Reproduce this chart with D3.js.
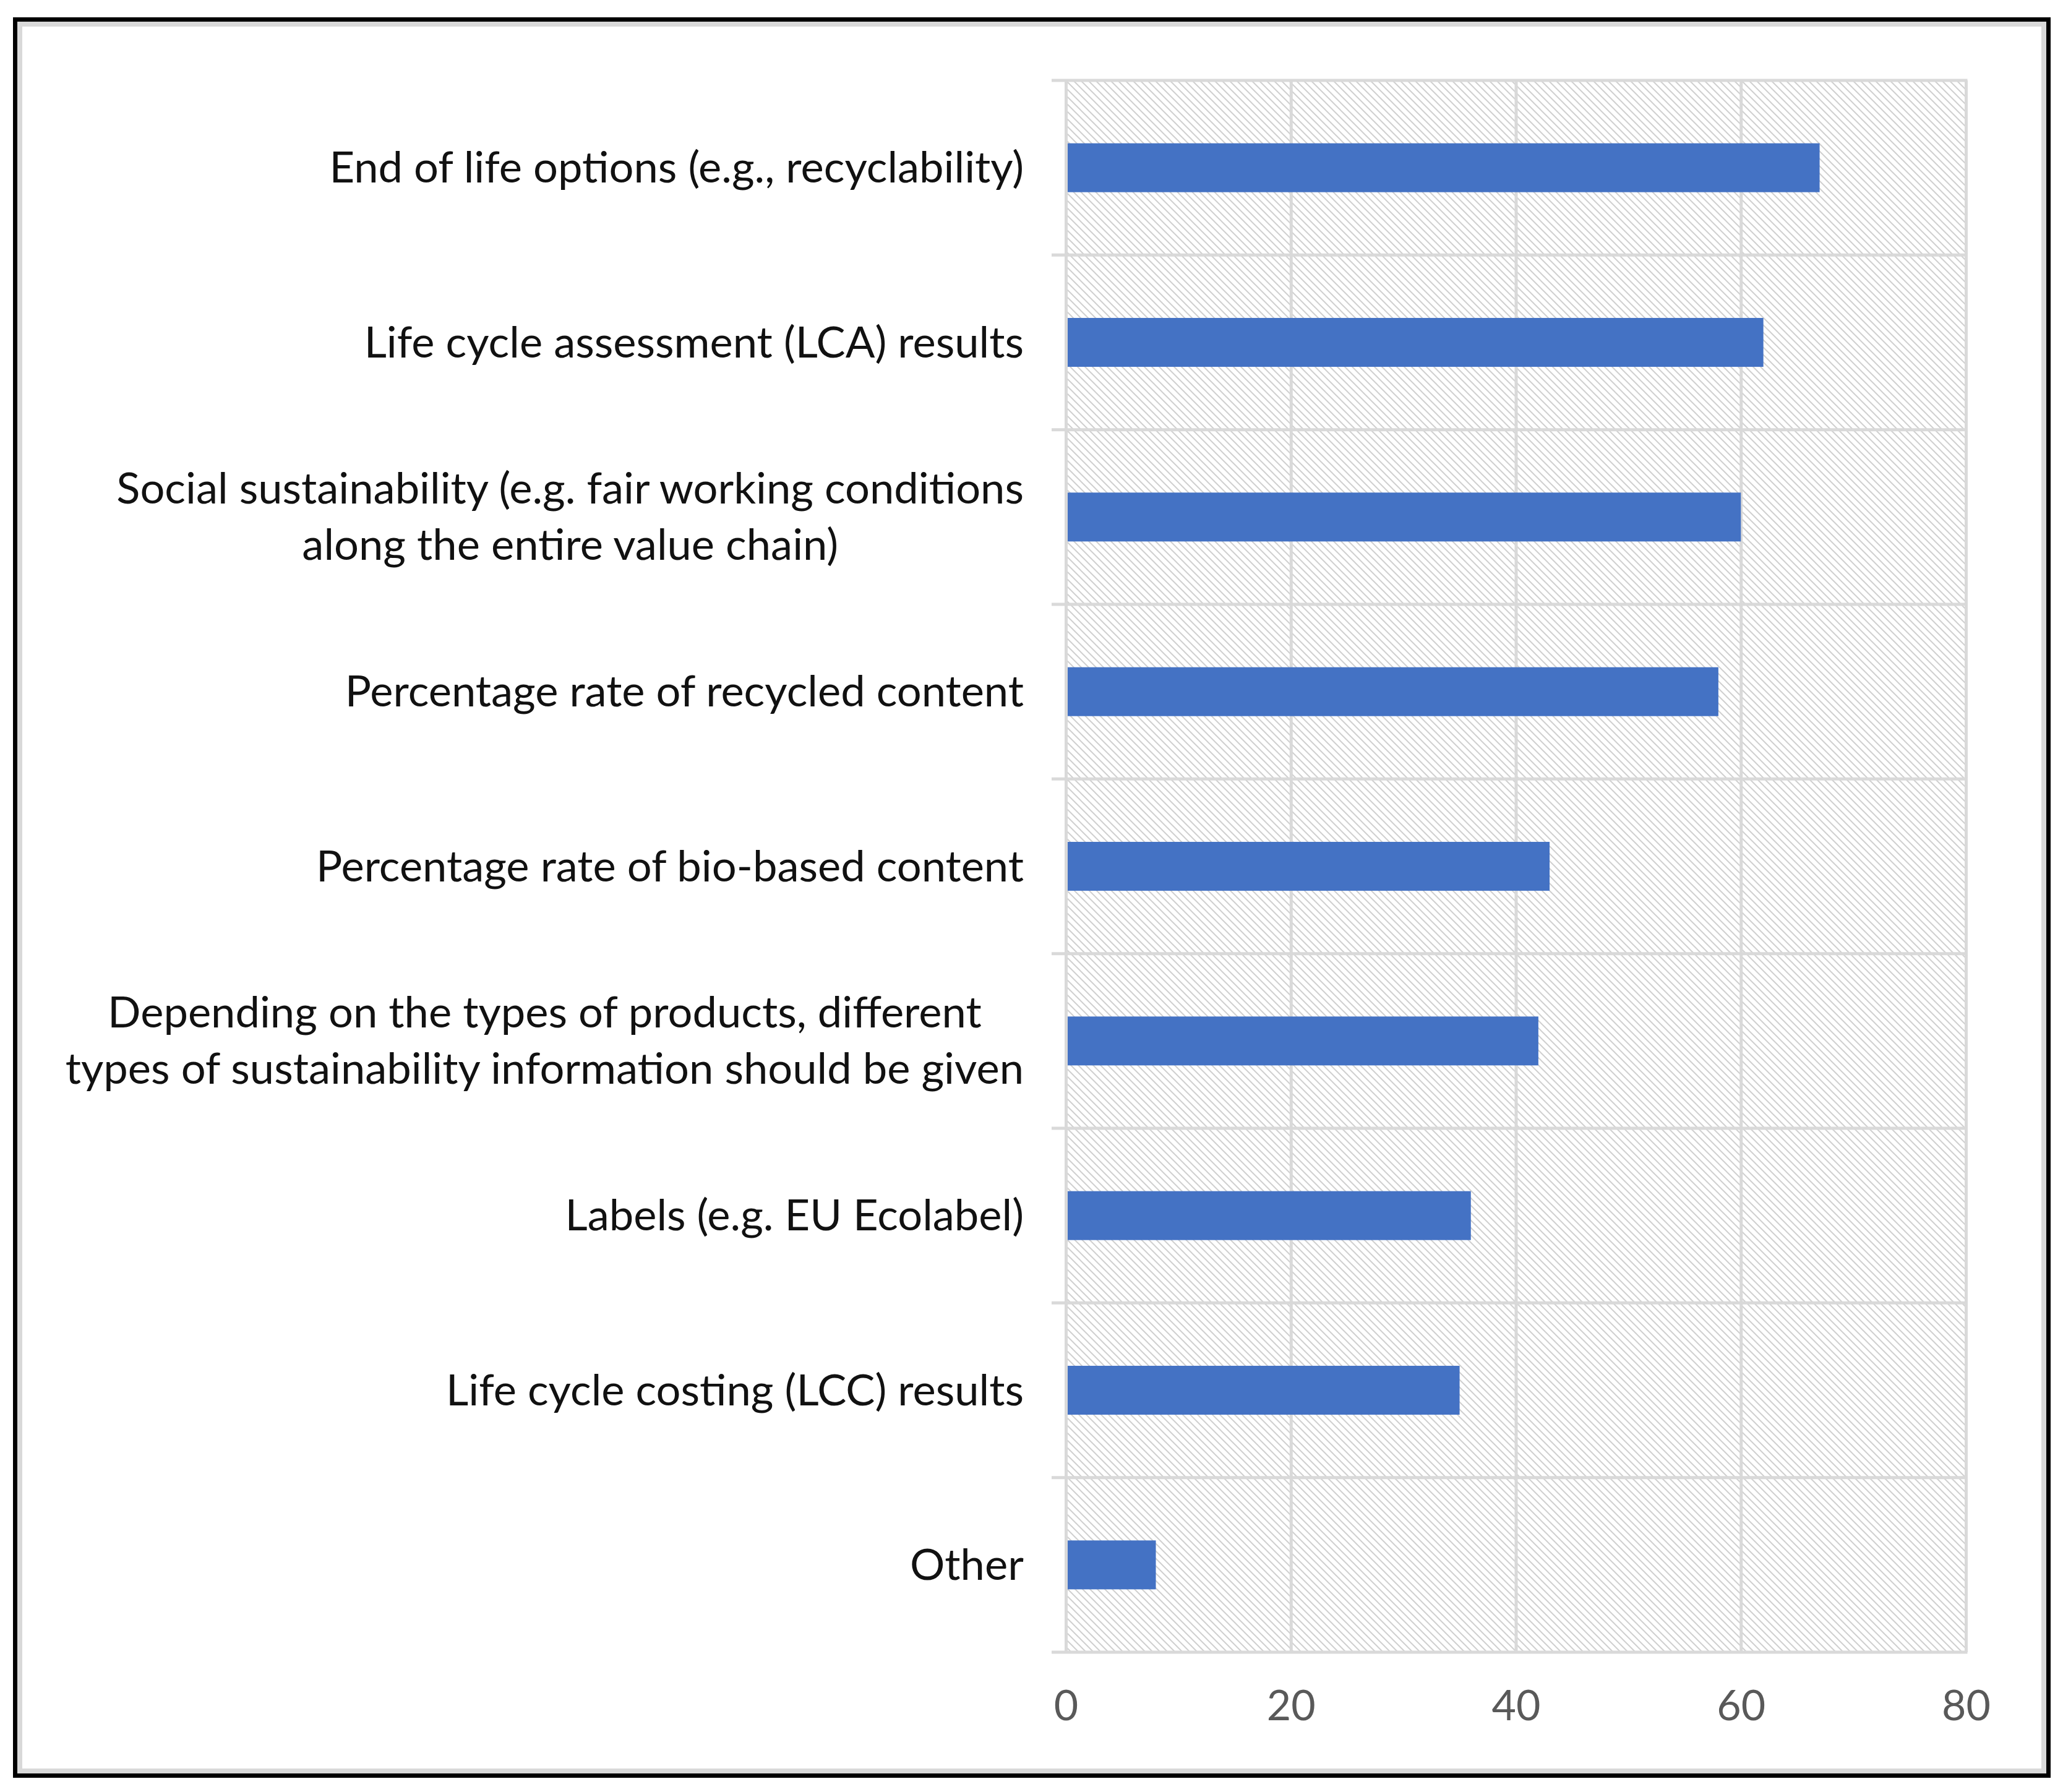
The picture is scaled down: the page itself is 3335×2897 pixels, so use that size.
<!DOCTYPE html>
<html>

<head>
    <meta charset="utf-8">
    <script src="https://d3js.org/d3.v7.min.js"></script>
    <title>Sustainability information</title>
    <style>
        body {
            margin: 0px;
            background: #fff;
        }

        .domain {
            display: none;
        }

        .x-axis .tick line {
            stroke: #d9d9d9;
            stroke-width: 5;
        }

        .x-axis .tick text {
            fill: #595959;
            font-size: 68px;
            font-family: Lato, sans-serif;
        }

        .cat-label {
            fill: #111;
            font-size: 70.5px;
            font-family: Lato, sans-serif;
        }
    </style>
</head>

<body>
    <svg width="3335" height="2897"></svg>
    <script>
        // Categories top to bottom; "\n" marks a wrapped line.
        const categories = [
            'End of life options (e.g., recyclability)',
            'Life cycle assessment (LCA) results',
            'Social sustainability (e.g. fair working conditions\nalong the entire value chain)',
            'Percentage rate of recycled content',
            'Percentage rate of bio-based content',
            'Depending on the types of products, different\ntypes of sustainability information should be given',
            'Labels (e.g. EU Ecolabel)',
            'Life cycle costing (LCC) results',
            'Other'
        ];
        const values = [67, 62, 60, 58, 43, 42, 36, 35, 8];
        const xTicks = [0, 20, 40, 60, 80];

        const svg = d3.select('svg');
        const width = +svg.attr('width');
        const height = +svg.attr('height');

        // outer frame: black border with a light grey inner edge
        svg.append('rect')
            .attr('x', 24.5).attr('y', 31.5)
            .attr('width', 3287).attr('height', 2839)
            .attr('fill', '#fff')
            .attr('stroke', '#000')
            .attr('stroke-width', 7);
        svg.append('rect')
            .attr('x', 32).attr('y', 39)
            .attr('width', 3272).attr('height', 2824)
            .attr('fill', 'none')
            .attr('stroke', '#d9d9d9')
            .attr('stroke-width', 8);

        // hatch pattern for the plot area
        const defs = svg.append('defs');
        const pat = defs.append('pattern')
            .attr('id', 'hatch')
            .attr('patternUnits', 'userSpaceOnUse')
            .attr('width', 12)
            .attr('height', 12);
        pat.append('path')
            .attr('d', 'M-3,-3 L15,15 M-3,9 L3,15 M9,-3 L15,3')
            .attr('stroke', '#d0d0d0')
            .attr('stroke-width', 2);

        const margin = { left: 1723, right: 3335 - 3178, top: 130, bottom: 2897 - 2671 };
        const innerWidth = width - margin.left - margin.right;
        const innerHeight = height - margin.top - margin.bottom;

        const g = svg.append('g')
            .attr('transform', `translate(${margin.left},${margin.top})`);

        const xScale = d3.scaleLinear()
            .domain([0, 80])
            .range([0, innerWidth]);

        const yScale = d3.scaleBand()
            .domain(categories)
            .range([0, innerHeight])
            .padding(0);

        g.append('rect')
            .attr('width', innerWidth)
            .attr('height', innerHeight)
            .attr('fill', 'url(#hatch)');

        // vertical gridlines + tick labels
        const xAxis = d3.axisBottom(xScale)
            .tickValues(xTicks)
            .tickSize(-innerHeight)
            .tickPadding(62);
        const xAxisG = g.append('g')
            .attr('class', 'x-axis')
            .attr('transform', `translate(0,${innerHeight})`)
            .call(xAxis);

        // category separators (they poke out left of the axis a bit)
        const bounds = categories.map(c => yScale(c)).concat([innerHeight]);
        g.selectAll('.sep')
            .data(bounds)
            .enter().append('line')
            .attr('class', 'sep')
            .attr('x1', -23)
            .attr('x2', innerWidth + 2.5)
            .attr('y1', d => d)
            .attr('y2', d => d)
            .attr('stroke', '#d9d9d9')
            .attr('stroke-width', 5);

        // bars
        const barFrac = 0.28;
        const bw = yScale.bandwidth();
        g.selectAll('.bar')
            .data(values)
            .enter().append('rect')
            .attr('class', 'bar')
            .attr('x', xScale(0) + 3)
            .attr('y', (d, i) => yScale(categories[i]) + bw * (1 - barFrac) / 2)
            .attr('width', d => xScale(d) - xScale(0) - 3)
            .attr('height', bw * barFrac)
            .attr('fill', '#4472C4');

        // category labels, wrapped lines centred on each other
        const lineH = 91;
        const labels = g.selectAll('.cat-label')
            .data(categories)
            .enter().append('text')
            .attr('class', 'cat-label')
            .attr('text-anchor', 'middle');

        labels.each(function (d) {
            const lines = d.split('\n');
            const t = d3.select(this);
            lines.forEach((ln, k) => {
                t.append('tspan')
                    .attr('x', 0)
                    .attr('y', yScale(d) + bw / 2 + (k - (lines.length - 1) / 2) * lineH + 24)
                    .text(ln);
            });
            // right edge of the widest line sits 68px left of the axis
            const w = this.getBBox().width;
            t.selectAll('tspan').attr('x', -68 - w / 2);
        });
    </script>
</body>

</html>
